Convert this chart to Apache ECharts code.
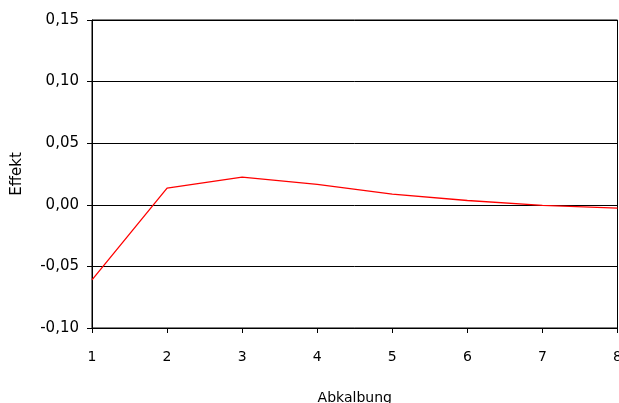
<!DOCTYPE html>
<html><head><meta charset="utf-8">
<script src="https://cdn.jsdelivr.net/npm/echarts@6/dist/echarts.min.js"></script>
<style>html,body{margin:0;padding:0;background:#fff}#c{width:619px;height:403px}</style>
</head><body><div id="c"></div>
<script>
const xValues = [1, 2, 3, 4, 5, 6, 7, 8];
const effekt = [-0.061, 0.0135, 0.0225, 0.0165, 0.0087, 0.0035, -0.0005, -0.0027];
const yTicks = [-0.10, -0.05, 0.00, 0.05, 0.10, 0.15];
const xTitle = 'Abkalbung';
const yTitle = 'Effekt';

const chart = echarts.init(document.getElementById('c'));
const fontF = '"Comic Sans MS", "DejaVu Sans", sans-serif';
chart.setOption({
  animation: false,
  grid: { left: 92, right: 1.5, top: 20, bottom: 75, show: true, borderColor: '#000', borderWidth: 1,
    containLabel: false, outerBoundsMode: 'none' },
  xAxis: {
    type: 'value', min: 1, max: 8, interval: 1,
    name: xTitle, nameLocation: 'middle', nameGap: 63,
    nameTextStyle: { fontFamily: fontF, fontSize: 14, color: '#000' },
    axisLine: { onZero: false, lineStyle: { color: '#000' } },
    axisTick: { show: true, length: 5, lineStyle: { color: '#000' } },
    axisLabel: { fontFamily: fontF, fontSize: 14, color: '#000', margin: 22 },
    splitLine: { show: false }
  },
  yAxis: {
    type: 'value', min: yTicks[0], max: yTicks[yTicks.length - 1], interval: 0.05,
    name: yTitle, nameLocation: 'middle', nameGap: 67, nameRotate: 90,
    nameTextStyle: { fontFamily: '"DejaVu Sans", sans-serif', fontSize: 15, color: '#000' },
    axisLine: { show: true, lineStyle: { color: '#000' } },
    axisTick: { show: true, length: 5, lineStyle: { color: '#000' } },
    axisLabel: { fontFamily: '"DejaVu Sans", sans-serif', fontSize: 15, color: '#000', margin: 13,
      formatter: v => v.toFixed(2).replace('.', ',') },
    splitLine: { show: true, lineStyle: { color: '#000', width: 1 } }
  },
  series: [{
    type: 'line',
    data: xValues.map((x, i) => [x, effekt[i]]),
    showSymbol: false, symbol: 'none',
    lineStyle: { color: '#ff0000', width: 1.3 },
    itemStyle: { color: '#ff0000' }
  }]
});
</script></body></html>
